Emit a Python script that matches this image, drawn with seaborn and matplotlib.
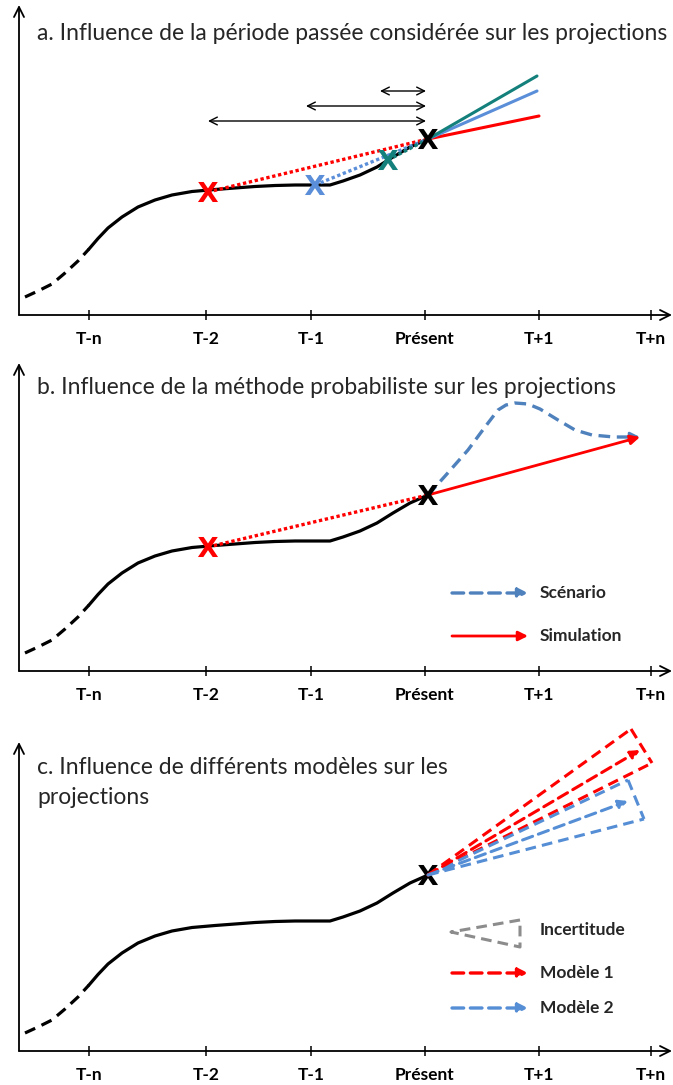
import numpy as np
import pandas as pd
import seaborn as sns
import matplotlib.pyplot as plt

sns.set_theme(style="white")
plt.rcParams['font.family'] = ['Lato', 'DejaVu Sans']
plt.rcParams['lines.solid_joinstyle'] = 'round'
plt.rcParams['lines.dash_joinstyle'] = 'round'

# ---------------- data ----------------
tick_labels = ["T-n", "T-2", "T-1", "Présent", "T+1", "T+n"]
tick_pos = [89, 206, 311, 425, 539, 651]

# observed past trajectory (shared by the three panels)
hist_x = [25, 38, 52, 65, 78, 89, 98, 108, 122, 138, 155, 172, 192, 215,
          235, 255, 275, 295, 315, 330, 343, 360, 377, 393, 410, 428]
hist_y = [18, 24, 31, 42, 54, 66, 76.5, 87, 98, 108, 115, 120, 123.5, 125.5,
          127, 128.5, 129.5, 130, 130, 130, 134, 140, 148, 158, 168, 176]
n_dashed = 6  # first points drawn dashed

present_x, present_y = 428, 176

# panel a : reference periods
a_start_x = [208, 315, 388]
a_start_y = [123, 130, 155]
a_end_x = [539, 537, 537]
a_end_y = [199, 224, 239]
a_colors = ["#FF0000", "#5A8ED8", "#14807B"]
a_period_left = [208, 306, 380]
a_period_y = [194, 209, 224]

# panel b : probabilistic method
b_anchor_x, b_anchor_y = 208, 124
scen_x = [428, 446, 468, 485, 498, 506, 515, 528, 540, 558, 575, 592, 614, 630]
scen_y = [176, 196, 221, 244, 261, 266, 268, 267, 262, 251, 241, 236, 234, 234]
scen_tip = (640, 234)
sim_end = (640, 234)

# panel c : models (upper edge, central arrow, lower edge)
c_models = ["Modèle 1", "Modèle 2"]
c_upper = [(631, 322), (628, 271)]
c_center = [(640, 301), (628, 250)]
c_lower = [(652, 288), (644, 232)]
c_colors = ["#FF0000", "#558ED5"]

RED = "#FF0000"
SCEN_BLUE = "#4F81BD"
GREY = "#8C8C8C"

# ---------------- figure ----------------
W, H = 673, 1085
fig = plt.figure(figsize=(W / 100, H / 100), dpi=100)

panels = {"a": (5, 315), "b": (363, 671), "c": (742, 1051)}
axes = {}
for k, (top, base) in panels.items():
    ax = fig.add_axes([19 / W, 1 - base / H, (672 - 19) / W, (base - top) / H])
    ax.set_xlim(19, 672)
    ax.set_ylim(0, base - top)
    ax.patch.set_alpha(0)
    for s in ax.spines.values():
        s.set_visible(False)
    ax.set_xticks(tick_pos, tick_labels, fontweight="bold", fontsize=12.5)
    ax.set_yticks([])
    ax.tick_params(axis="x", direction="inout", length=7, width=1.1,
                   color="black", pad=8, bottom=True, labelcolor="black")
    ax.annotate("", xy=(1.0, 0), xytext=(0, 0), xycoords="axes fraction",
                arrowprops=dict(arrowstyle="->", lw=1.3, color="black",
                                shrinkA=0, shrinkB=0, mutation_scale=18))
    ax.annotate("", xy=(0, 1.0), xytext=(0, 0), xycoords="axes fraction",
                arrowprops=dict(arrowstyle="->", lw=1.3, color="black",
                                shrinkA=0, shrinkB=0, mutation_scale=18))
    # past trajectory
    hx = pd.DataFrame({"x": hist_x, "y": hist_y})
    sns.lineplot(data=hx.iloc[:n_dashed], x="x", y="y", ax=ax, color="black",
                 lw=2.3, linestyle=(0, (3.5, 2.2)), sort=False, estimator=None)
    sns.lineplot(data=hx.iloc[n_dashed - 1:], x="x", y="y", ax=ax, color="black",
                 lw=2.3, sort=False, estimator=None)
    axes[k] = ax

XMARK = r"$\mathbf{X}$"

# ---- panel a ----
ax = axes["a"]
ax.text(37, 282, "a. Influence de la période passée considérée sur les projections",
        fontsize=16.5, va="center", ha="left")
for sx, sy, ex, ey, c in zip(a_start_x, a_start_y, a_end_x, a_end_y, a_colors):
    sns.lineplot(x=[sx, present_x], y=[sy, present_y], ax=ax, color=c, lw=2.4,
                 linestyle=(0, (1, 0.8)), sort=False, estimator=None)
for sx, sy, ex, ey, c in zip(a_start_x, a_start_y, a_end_x, a_end_y, a_colors):
    sns.lineplot(x=[present_x, ex], y=[present_y, ey], ax=ax, color=c, lw=2.2,
                 sort=False, estimator=None)
for sx, sy, c in zip(a_start_x, a_start_y, a_colors):
    sns.scatterplot(x=[sx], y=[sy], ax=ax, marker=XMARK, s=210, color=c,
                    edgecolor="none", zorder=5)
sns.scatterplot(x=[present_x], y=[present_y], ax=ax, marker=XMARK, s=210,
                color="black", edgecolor="none", zorder=5)
for lx, ly in zip(a_period_left, a_period_y):
    ax.annotate("", xy=(426, ly), xytext=(lx, ly), xycoords="data",
                arrowprops=dict(arrowstyle="<->", lw=1.0, color="black",
                                shrinkA=0, shrinkB=0, mutation_scale=14))

# ---- panel b ----
ax = axes["b"]
ax.text(37, 284, "b. Influence de la méthode probabiliste sur les projections",
        fontsize=16.5, va="center", ha="left")
sns.lineplot(x=[b_anchor_x, present_x], y=[b_anchor_y, present_y], ax=ax,
             color=RED, lw=2.4, linestyle=(0, (1, 0.8)), sort=False, estimator=None)
sns.lineplot(x=scen_x, y=scen_y, ax=ax, color=SCEN_BLUE, lw=2.4,
             linestyle=(0, (3.5, 2)), sort=False, estimator=None)
ax.annotate("", xy=scen_tip, xytext=(scen_x[-1], scen_y[-1]),
            arrowprops=dict(arrowstyle="-|>", lw=2.0, color=SCEN_BLUE,
                            shrinkA=0, shrinkB=0, mutation_scale=14))
ax.annotate("", xy=sim_end, xytext=(present_x, present_y),
            arrowprops=dict(arrowstyle="-|>", lw=2.0, color=RED,
                            shrinkA=0, shrinkB=0, mutation_scale=14))
sns.scatterplot(x=[b_anchor_x], y=[b_anchor_y], ax=ax, marker=XMARK, s=210,
                color=RED, edgecolor="none", zorder=5)
sns.scatterplot(x=[present_x], y=[present_y], ax=ax, marker=XMARK, s=210,
                color="black", edgecolor="none", zorder=5)
# legend
ax.annotate("", xy=(528, 78), xytext=(452, 78),
            arrowprops=dict(arrowstyle="-|>", lw=2.4, color=SCEN_BLUE, ls=(0, (3.5, 2)),
                            shrinkA=0, shrinkB=0, mutation_scale=14))
ax.text(540, 78, "Scénario", fontsize=12.5, fontweight="bold", va="center")
ax.annotate("", xy=(528, 35), xytext=(452, 35),
            arrowprops=dict(arrowstyle="-|>", lw=2.0, color=RED,
                            shrinkA=0, shrinkB=0, mutation_scale=14))
ax.text(540, 35, "Simulation", fontsize=12.5, fontweight="bold", va="center")

# ---- panel c ----
ax = axes["c"]
ax.text(37, 283, "c. Influence de différents modèles sur les", fontsize=16.5,
        va="center", ha="left")
ax.text(37, 253, "projections", fontsize=16.5, va="center", ha="left")
for up, cen, lo, c in zip(c_upper, c_center, c_lower, c_colors):
    for (x0, y0), (x1, y1) in [((present_x, present_y), up),
                               ((present_x, present_y), lo), (up, lo)]:
        sns.lineplot(x=[x0, x1], y=[y0, y1], ax=ax, color=c, lw=2.2,
                     linestyle=(0, (3.5, 2)), sort=False, estimator=None,
                     clip_on=False)
    ax.annotate("", xy=cen, xytext=(present_x, present_y), annotation_clip=False,
                arrowprops=dict(arrowstyle="-|>", lw=2.2, color=c, ls=(0, (3.5, 2)),
                                shrinkA=0, shrinkB=0, mutation_scale=13))
sns.scatterplot(x=[present_x], y=[present_y], ax=ax, marker=XMARK, s=210,
                color="black", edgecolor="none", zorder=1)
# legend
tri_x = [520, 451, 520, 520]
tri_y = [131, 119, 104, 131]
sns.lineplot(x=tri_x, y=tri_y, ax=ax, color=GREY, lw=2.2,
             linestyle=(0, (3.5, 2)), sort=False, estimator=None)
ax.text(540, 121, "Incertitude", fontsize=12.5, fontweight="bold", va="center")
for yy, lab, c in zip([78, 43], c_models, c_colors):
    ax.annotate("", xy=(528, yy), xytext=(452, yy),
                arrowprops=dict(arrowstyle="-|>", lw=2.4, color=c, ls=(0, (3.5, 2)),
                                shrinkA=0, shrinkB=0, mutation_scale=14))
    ax.text(540, yy, lab, fontsize=12.5, fontweight="bold", va="center")

for ax in axes.values():
    ax.set_xlabel("")
    ax.set_ylabel("")

fig.savefig("out.png", dpi=100)
